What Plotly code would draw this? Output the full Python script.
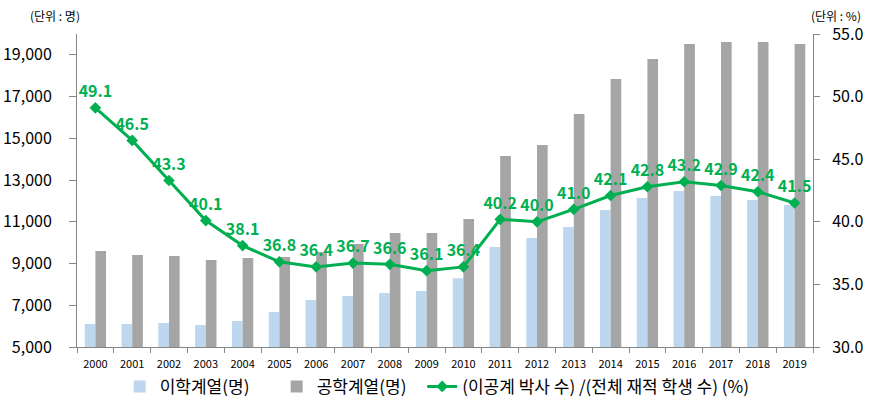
import plotly.graph_objects as go

years = [str(y) for y in range(2000, 2020)]
science = [6100, 6100, 6150, 6050, 6250, 6680, 7250, 7440, 7590, 7680,
           8300, 9790, 10220, 10750, 11570, 12140, 12480, 12240, 12040, 11800]
engineering = [9600, 9410, 9360, 9170, 9270, 9310, 9550, 9940, 10460, 10460,
               11130, 14150, 14680, 16170, 17840, 18800, 19520, 19620, 19620, 19520]
ratio = [49.1, 46.5, 43.3, 40.1, 38.1, 36.8, 36.4, 36.7, 36.6, 36.1,
         36.4, 40.2, 40.0, 41.0, 42.1, 42.8, 43.2, 42.9, 42.4, 41.5]

font_kr = "Noto Sans CJK KR"
green = "#00B050"
axis_grey = "#868686"

fig = go.Figure()
fig.add_trace(go.Bar(x=years, y=science, name="이학계열(명)",
                     marker=dict(color="#BDD7EE", line=dict(width=0))))
fig.add_trace(go.Bar(x=years, y=engineering, name="공학계열(명)",
                     marker=dict(color="#A5A5A5", line=dict(width=0))))
fig.add_trace(go.Scatter(x=years, y=ratio, yaxis="y2", mode="lines+markers+text",
                         name="(이공계 박사 수) /(전체 재적 학생 수) (%)", legend="legend2",
                         line=dict(color=green, width=3),
                         marker=dict(symbol="diamond", size=9, color=green),
                         text=["%.1f" % v for v in ratio], textposition="top center",
                         textfont=dict(color=green, size=16, family=font_kr, weight="bold"),
                         cliponaxis=False))

fig.update_layout(
    width=870, height=410,
    margin=dict(l=77, r=57, t=34, b=63, autoexpand=False),
    paper_bgcolor="white", plot_bgcolor="white",
    font=dict(family=font_kr, color="#000000"),
    barmode="group", bargap=0.42, bargroupgap=0,
    showlegend=True,
    legend=dict(orientation="h", x=0.058, xanchor="left", y=-0.07, yanchor="top",
                font=dict(size=17), entrywidth=112, entrywidthmode="pixels",
                traceorder="normal"),
    legend2=dict(orientation="h", x=0.469, xanchor="left", y=-0.07, yanchor="top",
                 font=dict(size=17)),
    xaxis=dict(type="category", range=[-0.5, 19.5], showgrid=False, showline=True,
               linecolor=axis_grey, ticks="outside", tickson="boundaries", ticklen=5,
               tickcolor=axis_grey, ticklabelstandoff=7, tickfont=dict(size=11),
               automargin=False),
    yaxis=dict(range=[5000, 20000], tick0=5000, dtick=2000, tickformat=",d",
               showgrid=False, showline=True, linecolor=axis_grey,
               ticks="outside", ticklen=7, tickcolor=axis_grey, ticklabelstandoff=14,
               tickfont=dict(size=16), automargin=False),
    yaxis2=dict(range=[30, 55], dtick=5, tickformat=".1f", overlaying="y", side="right",
                showgrid=False, showline=True, linecolor=axis_grey,
                ticks="outside", ticklen=6, tickcolor=axis_grey, ticklabelstandoff=9,
                tickfont=dict(size=16), automargin=False),
)

fig.add_annotation(text="(단위 : 명)", xref="paper", yref="paper", x=-0.030, y=1.0,
                   yshift=19, xanchor="center", yanchor="middle", showarrow=False,
                   font=dict(size=12))
fig.add_annotation(text="(단위 : %)", xref="paper", yref="paper", x=1.031, y=1.0,
                   yshift=19, xanchor="center", yanchor="middle", showarrow=False,
                   font=dict(size=12))

# drop the default page margin so the figure sits at the window's corner
fig.write_html("out.html", config={"displayModeBar": False},
               post_script="document.body.style.margin='0';")
